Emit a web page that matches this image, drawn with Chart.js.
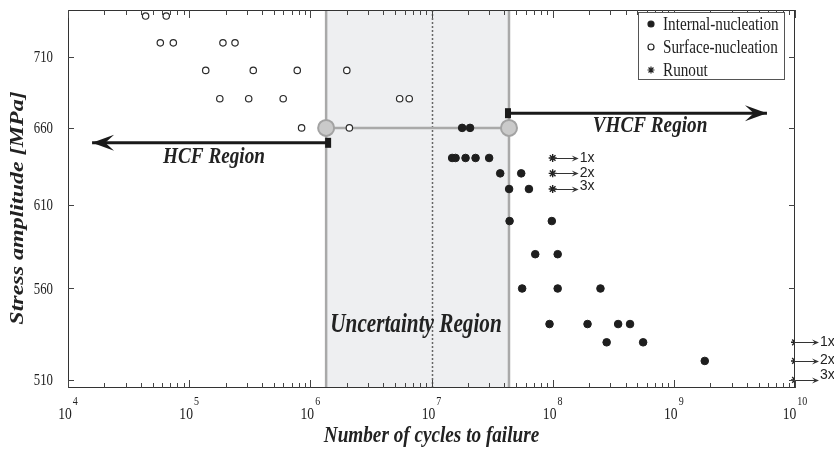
<!DOCTYPE html>
<html>
<head>
<meta charset="utf-8">
<title>Stress amplitude vs. cycles to failure</title>
<script src="https://cdn.jsdelivr.net/npm/chart.js@4.4.0/dist/chart.umd.min.js"></script>
<style>
  html, body { margin: 0; padding: 0; background: #fff; }
</style>
</head>
<body>
<canvas id="sn" width="834" height="454"></canvas>
<script>
// test results: cycles to failure and stress amplitude [MPa]
const surfaceCycles = [4.37e4, 6.47e4, 5.78e4, 7.4e4, 1.9e5, 2.39e5, 1.37e5, 3.38e5, 7.8e5,
  1.79e5, 3.1e5, 5.97e5, 8.47e5, 2.0e6, 5.46e6, 6.55e6, 2.1e6];
const surfaceStress = [740, 740, 720, 720, 720, 720, 700, 700, 700,
  680, 680, 680, 660, 700, 680, 680, 660];

const internalCycles = [1.79e7, 2.08e7, 1.48e7, 1.58e7, 1.91e7, 2.31e7, 2.99e7, 3.69e7, 5.5e7,
  4.37e7, 6.37e7, 4.41e7, 9.84e7, 7.18e7, 1.1e8, 5.6e7, 1.1e8, 2.48e8,
  9.42e7, 1.94e8, 3.47e8, 4.35e8, 2.79e8, 5.58e8, 1.8e9];
const internalStress = [660, 660, 640, 640, 640, 640, 640, 630, 630,
  620, 620, 600, 600, 580, 580, 560, 560, 560,
  540, 540, 540, 540, 530, 530, 520];

const runoutCycles = [1e8, 1e8, 1e8, 1e10, 1e10, 1e10];
const runoutStress = [640, 630, 620, 530, 520, 510];
const runoutLabels = ["1x", "2x", "3x", "1x", "2x", "3x"];

// axes
const stressTicks = [510, 560, 610, 660, 710];
const cycleDecades = [4, 5, 6, 7, 8, 9, 10];

// regions
const uncertaintyCycles = [1.35e6, 4.36e7];
const uncertaintyStress = 660;
const transitionCycles = 1e7;
const hcfCycles = [1.35e6, 1.58e4];
const hcfStress = 650;
const vhcfCycles = [4.36e7, 5.87e9];
const vhcfStress = 670;

const SERIF = '"Liberation Serif", "Times New Roman", serif';
const SANS = '"Liberation Sans", Arial, sans-serif';
const SQUASH = 0.8;
const INK = "#222";

function pts(xs, ys) {
  return xs.map((x, i) => ({ x: x, y: Array.isArray(ys) ? ys[i] : ys }));
}

// text is a little narrower than the font's normal width
function squashText(ctx, str, x, y, font, align, baseline) {
  ctx.save();
  ctx.font = font;
  ctx.fillStyle = INK;
  ctx.textAlign = align;
  ctx.textBaseline = baseline;
  ctx.translate(x, y);
  ctx.scale(SQUASH, 1);
  ctx.fillText(str, 0, 0);
  ctx.restore();
}

function arrowHead(ctx, x, y, dir, len, half) {
  ctx.beginPath();
  ctx.moveTo(x, y);
  ctx.lineTo(x - dir * len, y - half);
  ctx.lineTo(x - dir * len * 0.6, y);
  ctx.lineTo(x - dir * len, y + half);
  ctx.closePath();
  ctx.fill();
}

const regionPlugin = {
  id: "regions",
  beforeDatasetsDraw(chart) {
    const { ctx, chartArea: a, scales } = chart;
    const x0 = scales.x.getPixelForValue(uncertaintyCycles[0]);
    const x1 = scales.x.getPixelForValue(uncertaintyCycles[1]);
    ctx.save();
    ctx.fillStyle = "#eeeff1";
    ctx.fillRect(x0, a.top, x1 - x0, a.bottom - a.top);
    ctx.strokeStyle = "#a9a9a9";
    ctx.lineWidth = 2.5;
    [x0, x1].forEach(px => {
      ctx.beginPath();
      ctx.moveTo(px, a.top);
      ctx.lineTo(px, a.bottom);
      ctx.stroke();
    });
    const xt = Math.round(scales.x.getPixelForValue(transitionCycles)) + 0.5;
    ctx.strokeStyle = "#666";
    ctx.lineWidth = 1.5;
    ctx.setLineDash([2, 2]);
    ctx.beginPath();
    ctx.moveTo(xt, a.top);
    ctx.lineTo(xt, a.bottom);
    ctx.stroke();
    ctx.restore();
  },
  afterDatasetsDraw(chart) {
    const { ctx, scales } = chart;
    const sx = scales.x, sy = scales.y;
    ctx.save();
    ctx.fillStyle = "#1a1a1a";

    // HCF / VHCF arrows: heads and start markers
    const hy = sy.getPixelForValue(hcfStress);
    arrowHead(ctx, sx.getPixelForValue(hcfCycles[1]), hy, -1, 22, 8);
    ctx.fillRect(sx.getPixelForValue(hcfCycles[0]) - 1, hy - 5, 6, 10);
    const vy = sy.getPixelForValue(vhcfStress);
    arrowHead(ctx, sx.getPixelForValue(vhcfCycles[1]), vy, 1, 22, 8);
    ctx.fillRect(sx.getPixelForValue(vhcfCycles[0]) - 4, vy - 5, 6, 10);

    // runout arrows
    const labelShift = [0, 0, -3, 0, -1, -5];
    ctx.strokeStyle = "#333";
    ctx.fillStyle = "#333";
    ctx.lineWidth = 1;
    runoutCycles.forEach((c, i) => {
      const px = sx.getPixelForValue(c);
      const py = Math.round(sy.getPixelForValue(runoutStress[i])) + 0.5;
      const len = c >= 1e10 ? 24 : 26;
      ctx.beginPath();
      ctx.moveTo(px, py);
      ctx.lineTo(px + len - 4, py);
      ctx.stroke();
      arrowHead(ctx, px + len, py, 1, 7, 3);
      ctx.save();
      ctx.font = "14px " + SANS;
      ctx.fillStyle = INK;
      ctx.textBaseline = "middle";
      ctx.fillText(runoutLabels[i], px + len + 1, py + labelShift[i]);
      ctx.restore();
    });

    const bold = "italic bold 24px " + SERIF;
    squashText(ctx, "HCF Region", 214, 157, bold, "center", "middle");
    squashText(ctx, "VHCF Region", 650, 126, bold, "center", "middle");
    squashText(ctx, "Uncertainty Region", 416, 325, "italic bold 26.5px " + SERIF, "center", "middle");
    ctx.restore();
  },
  afterDraw(chart) {
    const { ctx, chartArea: a, scales } = chart;
    const sx = scales.x, sy = scales.y;
    ctx.save();

    // frame
    ctx.strokeStyle = "#333";
    ctx.lineWidth = 1;
    ctx.strokeRect(a.left + 0.5, a.top + 0.5, a.right - a.left - 1, a.bottom - a.top - 1);

    // x ticks, inward on bottom and top
    ctx.strokeStyle = "#444";
    cycleDecades.forEach(d => {
      for (let k = 1; k <= 9; k++) {
        if (d === 10 && k > 1) break;
        const px = Math.round(sx.getPixelForValue(k * Math.pow(10, d))) + 0.5;
        const len = k === 1 ? 8 : 5;
        ctx.beginPath();
        ctx.moveTo(px, a.bottom);
        ctx.lineTo(px, a.bottom - len);
        ctx.moveTo(px, a.top);
        ctx.lineTo(px, a.top + len);
        ctx.stroke();
      }
    });
    // y ticks, inward on left and right
    stressTicks.forEach(s => {
      const py = Math.round(sy.getPixelForValue(s)) + 0.5;
      ctx.beginPath();
      ctx.moveTo(a.left, py);
      ctx.lineTo(a.left + 6, py);
      ctx.moveTo(a.right, py);
      ctx.lineTo(a.right - 6, py);
      ctx.stroke();
    });

    // tick labels
    stressTicks.forEach(s => {
      squashText(ctx, String(s), 53, sy.getPixelForValue(s) + 1, "16px " + SERIF, "right", "middle");
    });
    cycleDecades.forEach(d => {
      const px = sx.getPixelForValue(Math.pow(10, d));
      const exp = String(d);
      ctx.font = "17px " + SERIF;
      const wBase = ctx.measureText("10").width * SQUASH;
      ctx.font = "12.5px " + SERIF;
      const wExp = ctx.measureText(exp).width * SQUASH;
      const left = px - (wBase + wExp + 1) / 2;
      squashText(ctx, "10", left, 419, "17px " + SERIF, "left", "alphabetic");
      squashText(ctx, exp, left + wBase + 1, 405, "12.5px " + SERIF, "left", "alphabetic");
    });

    // axis titles
    const titleFont = "italic bold 24px " + SERIF;
    squashText(ctx, "Number of cycles to failure", (a.left + a.right) / 2, 436, titleFont, "center", "middle");
    ctx.save();
    ctx.font = titleFont;
    ctx.fillStyle = INK;
    ctx.textAlign = "center";
    ctx.textBaseline = "middle";
    ctx.translate(18, 208);
    ctx.rotate(-Math.PI / 2);
    ctx.scale(1, SQUASH);
    ctx.fillText("Stress amplitude [MPa]", 0, 0);
    ctx.restore();

    // legend
    const lx = 638.5, ly = 12.5, lw = 146, lh = 67;
    ctx.fillStyle = "#fff";
    ctx.fillRect(lx, ly, lw, lh);
    ctx.strokeStyle = "#555";
    ctx.strokeRect(lx, ly, lw, lh);
    const rows = [
      { y: 24, text: "Internal-nucleation", style: "circle", fill: "#1e1e1e" },
      { y: 47, text: "Surface-nucleation", style: "circle", fill: "#fff" },
      { y: 70, text: "Runout", style: "star", fill: "#333" }
    ];
    rows.forEach(r => {
      ctx.fillStyle = r.fill;
      ctx.strokeStyle = "#222";
      ctx.lineWidth = 1.2;
      if (r.style === "circle") {
        ctx.beginPath();
        ctx.arc(651, r.y, 3, 0, Math.PI * 2);
        ctx.fill();
        ctx.stroke();
      } else {
        Chart.helpers.drawPoint(ctx, { pointStyle: "star", radius: 3.5, borderWidth: 1.2 }, 651, r.y);
      }
      squashText(ctx, r.text, 663, r.y + 1, "19px " + SERIF, "left", "middle");
    });
    ctx.restore();
  }
};

new Chart(document.getElementById("sn"), {
  type: "scatter",
  data: {
    datasets: [
      {
        label: "Internal-nucleation",
        data: pts(internalCycles, internalStress),
        pointRadius: 3.8,
        pointBackgroundColor: "#1e1e1e",
        pointBorderColor: "#1e1e1e",
        pointBorderWidth: 1,
        order: 1
      },
      {
        label: "Surface-nucleation",
        data: pts(surfaceCycles, surfaceStress),
        pointRadius: 3.2,
        pointBackgroundColor: "#fff",
        pointBorderColor: "#2a2a2a",
        pointBorderWidth: 1.2,
        order: 1
      },
      {
        label: "Runout",
        data: pts(runoutCycles, runoutStress),
        pointStyle: "star",
        pointRadius: 4,
        pointBorderColor: "#222",
        pointBorderWidth: 1.4,
        order: 1
      },
      {
        label: "HCF",
        data: pts(hcfCycles, hcfStress),
        showLine: true,
        borderColor: "#1a1a1a",
        borderWidth: 3,
        pointRadius: 0,
        order: 3
      },
      {
        label: "VHCF",
        data: pts(vhcfCycles, vhcfStress),
        showLine: true,
        borderColor: "#1a1a1a",
        borderWidth: 3,
        pointRadius: 0,
        order: 3
      },
      {
        label: "Uncertainty",
        data: pts(uncertaintyCycles, uncertaintyStress),
        showLine: true,
        borderColor: "#a9a9a9",
        borderWidth: 2.5,
        pointRadius: 8,
        pointBackgroundColor: "#cacaca",
        pointBorderColor: "#a3a3a3",
        pointBorderWidth: 2,
        order: 4
      }
    ]
  },
  options: {
    responsive: false,
    animation: false,
    devicePixelRatio: 1,
    events: [],
    layout: { padding: { top: 7, right: 39, left: 0, bottom: 0 } },
    plugins: { legend: { display: false }, tooltip: { enabled: false } },
    scales: {
      x: {
        type: "logarithmic",
        min: 1e4,
        max: 1e10,
        ticks: { display: false },
        grid: { display: false },
        border: { display: false },
        afterFit(s) { s.height = 66; }
      },
      y: {
        type: "logarithmic",
        min: 505.8,
        max: 744.6,
        ticks: { display: false },
        grid: { display: false },
        border: { display: false },
        afterFit(s) { s.width = 68; }
      }
    }
  },
  plugins: [regionPlugin]
});
</script>
</body>
</html>
